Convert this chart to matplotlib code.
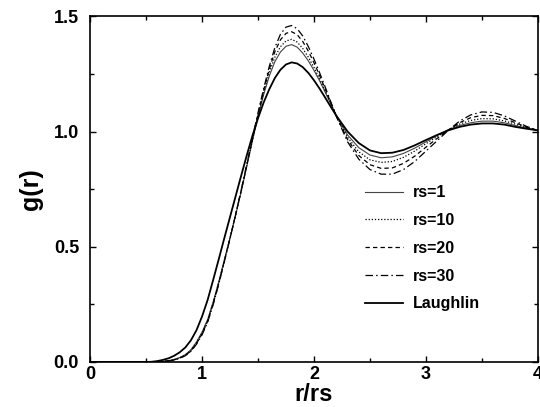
import matplotlib
matplotlib.use("Agg")
import matplotlib.pyplot as plt
from matplotlib.ticker import MultipleLocator

r = [0.0, 0.1, 0.2, 0.3, 0.4, 0.5,
     0.55, 0.60, 0.65, 0.70, 0.75, 0.80, 0.85, 0.90, 0.95, 1.00,
     1.05, 1.10, 1.15, 1.20, 1.25, 1.30, 1.35, 1.40, 1.45, 1.50,
     1.55, 1.60, 1.65, 1.70, 1.75, 1.80, 1.85, 1.90, 1.95, 2.00,
     2.05, 2.10, 2.15, 2.20,
     2.3, 2.4, 2.5, 2.6, 2.7, 2.8, 2.9, 3.0, 3.1, 3.2,
     3.3, 3.4, 3.5, 3.6, 3.7, 3.8, 3.9, 4.0]

g_rs1 = [0, 0, 0, 0, 0, 0,
         0.000, 0.001, 0.003, 0.006, 0.011, 0.019, 0.032, 0.053, 0.087, 0.130,
         0.185, 0.262, 0.350, 0.445, 0.540, 0.638, 0.740, 0.850, 0.960, 1.065,
         1.160, 1.240, 1.303, 1.345, 1.370, 1.377, 1.366, 1.340, 1.306, 1.265,
         1.220, 1.170, 1.120, 1.070,
         0.985, 0.930, 0.898, 0.886, 0.890, 0.905, 0.928, 0.955, 0.983, 1.008,
         1.026, 1.038, 1.045, 1.045, 1.038, 1.026, 1.014, 1.005]

g_rs10 = [0, 0, 0, 0, 0, 0,
          0.000, 0.001, 0.003, 0.005, 0.010, 0.018, 0.030, 0.050, 0.083, 0.126,
          0.181, 0.258, 0.347, 0.443, 0.540, 0.640, 0.744, 0.853, 0.963, 1.070,
          1.170, 1.255, 1.322, 1.368, 1.393, 1.400, 1.388, 1.360, 1.322, 1.278,
          1.228, 1.176, 1.122, 1.068,
          0.975, 0.912, 0.877, 0.866, 0.870, 0.888, 0.915, 0.947, 0.978, 1.007,
          1.032, 1.048, 1.056, 1.055, 1.046, 1.032, 1.016, 1.005]

g_rs20 = [0, 0, 0, 0, 0, 0,
          0.000, 0.001, 0.002, 0.005, 0.009, 0.017, 0.028, 0.048, 0.080, 0.122,
          0.177, 0.254, 0.343, 0.440, 0.538, 0.640, 0.746, 0.856, 0.967, 1.076,
          1.178, 1.270, 1.346, 1.398, 1.426, 1.433, 1.420, 1.390, 1.348, 1.298,
          1.243, 1.185, 1.125, 1.066,
          0.965, 0.896, 0.856, 0.840, 0.842, 0.862, 0.893, 0.932, 0.970, 1.006,
          1.038, 1.060, 1.070, 1.069, 1.057, 1.038, 1.019, 1.005]

g_rs30 = [0, 0, 0, 0, 0, 0,
          0.000, 0.001, 0.002, 0.004, 0.008, 0.016, 0.027, 0.046, 0.077, 0.118,
          0.173, 0.250, 0.340, 0.437, 0.536, 0.640, 0.748, 0.860, 0.972, 1.082,
          1.186, 1.282, 1.364, 1.422, 1.453, 1.460, 1.446, 1.414, 1.368, 1.314,
          1.255, 1.193, 1.129, 1.065,
          0.955, 0.880, 0.835, 0.815, 0.815, 0.835, 0.870, 0.915, 0.960, 1.005,
          1.045, 1.072, 1.085, 1.083, 1.068, 1.045, 1.022, 1.005]

g_laughlin = [0, 0, 0, 0, 0, 0,
              0.001, 0.004, 0.009, 0.016, 0.027, 0.042, 0.063, 0.094, 0.138, 0.198,
              0.270, 0.358, 0.448, 0.540, 0.630, 0.720, 0.810, 0.898, 0.982, 1.058,
              1.126, 1.183, 1.232, 1.268, 1.291, 1.300, 1.295, 1.279, 1.254, 1.222,
              1.186, 1.147, 1.107, 1.068,
              1.000, 0.950, 0.918, 0.906, 0.908, 0.920, 0.940, 0.963, 0.985, 1.005,
              1.020, 1.030, 1.035, 1.035, 1.030, 1.020, 1.012, 1.005]

labels = ["rs=1", "rs=10", "rs=20", "rs=30", "Laughlin"]
x_ticks = [0, 1, 2, 3, 4]
x_ticklabels = ["0", "1", "2", "3", "4"]
y_ticks = [0.0, 0.5, 1.0, 1.5]
y_ticklabels = ["0.0", "0.5", "1.0", "1.5"]

plt.rcParams['font.family'] = ['Liberation Sans', 'DejaVu Sans']
plt.rcParams['font.weight'] = 'bold'

fig = plt.figure(figsize=(5.4, 4.07), dpi=100)
ax = fig.add_axes([0.167, 0.1106, 0.829, 0.8494])

ax.plot(r, g_rs1, color='#444444', lw=0.8, ls='-', label=labels[0])
ax.plot(r, g_rs10, color='black', lw=0.9, ls=(0, (1, 1.5)), label=labels[1])
ax.plot(r, g_rs20, color='black', lw=0.9, ls=(0, (3.5, 2.5)), label=labels[2])
ax.plot(r, g_rs30, color='black', lw=0.9, ls=(0, (6, 2.5, 1.2, 2.5)), label=labels[3])
ax.plot(r, g_laughlin, color='black', lw=1.3, ls='-', label=labels[4])

ax.set_xlim(0, 4)
ax.set_ylim(0, 1.5)
ax.set_xticks(x_ticks)
ax.set_xticklabels(x_ticklabels)
ax.set_yticks(y_ticks)
ax.set_yticklabels(y_ticklabels)
ax.xaxis.set_minor_locator(MultipleLocator(0.5))
ax.yaxis.set_minor_locator(MultipleLocator(0.25))
ax.tick_params(which='both', direction='in', top=True, right=True, width=1.0)
ax.tick_params(which='major', length=4)
ax.tick_params(which='minor', length=3)
ax.tick_params(axis='x', labelsize=13, pad=3)
ax.tick_params(axis='y', labelsize=13, pad=8)
for lab in ax.get_xticklabels() + ax.get_yticklabels():
    lab.set_fontweight('bold')
for s in ax.spines.values():
    s.set_linewidth(1.2)

ax.set_xlabel("r/rs", fontsize=17, fontweight='bold', labelpad=0)
ax.set_ylabel("g(r)", fontsize=18, fontweight='bold', labelpad=8)

leg = ax.legend(loc='upper left', bbox_to_anchor=(0.676, 0.545),
                bbox_transform=fig.transFigure, frameon=False,
                prop={'size': 11.5, 'weight': 'bold'},
                handlelength=2.4, handletextpad=0.6, labelspacing=0.8,
                borderpad=0, borderaxespad=0)

fig.savefig("out.png", dpi=100)
